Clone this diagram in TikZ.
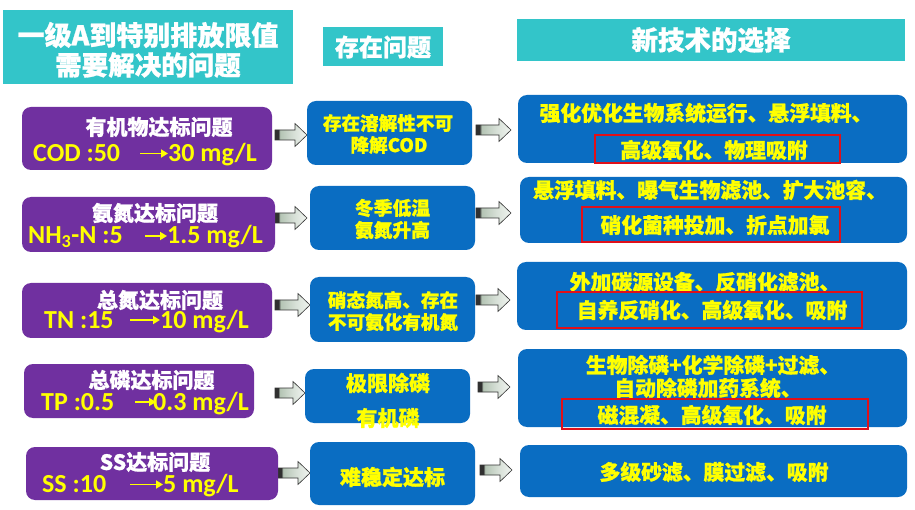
\documentclass[tikz,border=0pt]{standalone}
\usepackage{fontspec}
\setmainfont{Carlito}
\newfontfamily\cjk{Noto Sans CJK SC}[BoldFeatures={FakeBold=1}]
\usetikzlibrary{arrows.meta}
\definecolor{teal1}{HTML}{33C5C9}
\definecolor{purp}{HTML}{7030A0}
\definecolor{blu}{HTML}{0A6DC2}
\definecolor{yel}{HTML}{FFFF00}
\definecolor{redb}{HTML}{E0101A}
\definecolor{adark}{HTML}{303030}
\definecolor{alight}{HTML}{B4C4B4}
\definecolor{alight2}{HTML}{F0F4F0}
\pgfdeclarehorizontalshading{arrsh}{100bp}{color(0bp)=(adark); color(25bp)=(adark); color(30bp)=(adark); color(33bp)=(alight); color(55bp)=(alight2!60!alight); color(75bp)=(alight2); color(100bp)=(alight2)}
% block arrow: name, x tail, x tip, y centre
\newcommand{\blk}[4]{%
  \coordinate (#1) at ({(#2+#3)/2},#4);
  \path[shade, shading=arrsh, draw=black!80, line width=0.6pt, line join=miter]
    (#2,#4-5) -- ({#3-12},#4-5) -- ({#3-12},#4-11.5) -- (#3,#4) -- ({#3-12},#4+11.5)
    -- ({#3-12},#4+5) -- (#2,#4+5) -- cycle;}
\begin{document}
\begin{tikzpicture}[x=1pt,y=-1pt,
  hdr/.style={fill=teal1, inner sep=0pt},
  pbox/.style={fill=purp, rounded corners=9pt, inner sep=0pt},
  bbox/.style={fill=blu, rounded corners=9pt, inner sep=0pt},
  wtxt/.style={text=white, inner sep=0pt},
  ytxt/.style={text=yel, inner sep=0pt},
  cj/.style={font=\cjk\bfseries\fontsize{#1}{#1}\selectfont},
  lat/.style={font=\bfseries\fontsize{26}{26}\selectfont, anchor=base west},
  yarrow/.style={draw=yel, line width=1.8pt, -{Triangle[length=7pt,width=8pt]}},
  redbox/.style={draw=redb, line width=2.5pt}]
\useasboundingbox[fill=white] (0,0) rectangle (915,510);

% headers
\node[hdr, minimum width=290pt, minimum height=74pt] (h1) at (148,47) {};
\node[wtxt, cj=27] (h1a) at (148,35) {一级A到特别排放限值};
\node[wtxt, cj=26.5] (h1b) at (148,65) {需要解决的问题};
\node[hdr, minimum width=120pt, minimum height=39pt] (h2) at (383,46.5) {};
\node[wtxt, cj=24] (h2a) at (383,47) {存在问题};
\node[hdr, minimum width=388pt, minimum height=42pt] (h3) at (711,40) {};
\node[wtxt, cj=26.5] (h3a) at (711,40) {新技术的选择};

% block arrows
\blk{la1}{275}{307}{135}
\blk{la2}{275}{307}{218}
\blk{la3}{275}{310}{305}
\blk{la4}{275}{305}{393}
\blk{la5}{278}{310}{473}
\blk{ra1}{476}{511}{130}
\blk{ra2}{476}{511}{213}
\blk{ra3}{476}{510}{300}
\blk{ra4}{478}{510}{387}
\blk{ra5}{480}{512}{470}

% purple boxes
\node[pbox, minimum width=250pt, minimum height=63pt] (p1) at (147,138.5) {};
\node[pbox, minimum width=253pt, minimum height=55pt] (p2) at (148.5,224.5) {};
\node[pbox, minimum width=250pt, minimum height=55pt] (p3) at (147,310.5) {};
\node[pbox, minimum width=230pt, minimum height=54pt] (p4) at (139,391) {};
\node[pbox, minimum width=252pt, minimum height=53pt] (p5) at (152,473.5) {};

\node[wtxt, cj=21] (p1a) at (159,127) {有机物达标问题};
\node[wtxt, cj=21] (p2a) at (155,213) {氨氮达标问题};
\node[wtxt, cj=21] (p3a) at (160,300) {总氮达标问题};
\node[wtxt, cj=21] (p4a) at (151.5,380) {总磷达标问题};
\node[wtxt, cj=21] (p5a) at (155,462) {SS达标问题};

\node[ytxt, lat] (p1l) at (33,161.5) {COD :50};
\node[ytxt, lat] (p1r) at (168,161.5) {30 mg/L};
\node[ytxt, lat] (p2l) at (28,244) {NH\textsubscript{3}-N :5};
\node[ytxt, lat] (p2r) at (167,244) {1.5 mg/L};
\node[ytxt, lat] (p3l) at (44,329) {TN :15};
\node[ytxt, lat] (p3r) at (160,329) {10 mg/L};
\node[ytxt, lat] (p4l) at (41,410) {TP :0.5};
\node[ytxt, lat] (p5l) at (42,492) {SS :10};
\node[ytxt, lat] (p5r) at (163,492) {5 mg/L};
\draw[yarrow] (140,153.5) -- (p1r.west |- 0,153.5);
\draw[yarrow] (145,236) -- (p2r.west |- 0,236);
\draw[yarrow] (130,320) -- (p3r.west |- 0,320);
\draw[yarrow] (135,402) -- (156,402);
\node[ytxt, lat] (p4r) at (153,410) {0.3 mg/L};
\draw[yarrow] (130,484.5) -- (p5r.west |- 0,484.5);

% middle boxes
\node[bbox, minimum width=165pt, minimum height=64pt] (m1) at (389.5,133) {};
\node[bbox, minimum width=165pt, minimum height=64pt] (m2) at (392.5,218) {};
\node[bbox, minimum width=165pt, minimum height=65pt] (m3) at (392.5,309.5) {};
\node[bbox, minimum width=165pt, minimum height=54pt] (m4) at (387.5,396) {};
\node[bbox, minimum width=165pt, minimum height=63pt] (m5) at (392.5,473.5) {};

\node[ytxt, cj=18.6] (m1a) at (388,123) {存在溶解性不可};
\node[ytxt, cj=18.6] (m1b) at (389,145) {降解COD};
\node[ytxt, cj=18.8] (m2a) at (392.5,208) {冬季低温};
\node[ytxt, cj=18.8] (m2b) at (392.5,230) {氨氮升高};
\node[ytxt, cj=18.6] (m3a) at (393,300) {硝态氮高、存在};
\node[ytxt, cj=18.6] (m3b) at (393,322) {不可氨化有机氮};
\node[ytxt, cj=21] (m4a) at (388,383) {极限除磷};
\node[ytxt, cj=21] (m4b) at (388,418) {有机磷};
\node[ytxt, cj=21] (m5a) at (392.5,477) {难稳定达标};

% right boxes
\node[bbox, minimum width=389pt, minimum height=68pt] (r1) at (712.5,129) {};
\node[bbox, minimum width=387pt, minimum height=66pt] (r2) at (713.5,210) {};
\node[bbox, minimum width=390pt, minimum height=68pt] (r3) at (712,296) {};
\node[bbox, minimum width=389pt, minimum height=78pt] (r4) at (712.5,388) {};
\node[bbox, minimum width=387pt, minimum height=52pt] (r5) at (713.5,471) {};

\node[ytxt, cj=20.8] (r1a) at (706,113) {强化优化生物系统运行、悬浮填料、};
\node[ytxt, cj=20.8] (r1b) at (714,150) {高级氧化、物理吸附};
\node[ytxt, cj=20.8] (r2a) at (710,190) {悬浮填料、曝气生物滤池、扩大池容、};
\node[ytxt, cj=20.8] (r2b) at (715,225) {硝化菌种投加、折点加氯};
\node[ytxt, cj=20.8] (r3a) at (705,282) {外加碳源设备、反硝化滤池、};
\node[ytxt, cj=20.8] (r3b) at (712,310) {自养反硝化、高级氧化、吸附};
\node[ytxt, cj=20.8] (r4a) at (713,365) {生物除磷+化学除磷+过滤、};
\node[ytxt, cj=20.8] (r4b) at (708,388) {自动除磷加药系统、};
\node[ytxt, cj=20.8] (r4c) at (712,415) {磁混凝、高级氧化、吸附};
\node[ytxt, cj=20.8] (r5a) at (714,472) {多级砂滤、膜过滤、吸附};

% red highlight frames
\draw[redbox] (595,135) rectangle (840,163);
\draw[redbox] (582,207) rectangle (840,242);
\draw[redbox] (557,292) rectangle (862,328);
\draw[redbox] (562,399) rectangle (868,429);
\end{tikzpicture}
\end{document}
